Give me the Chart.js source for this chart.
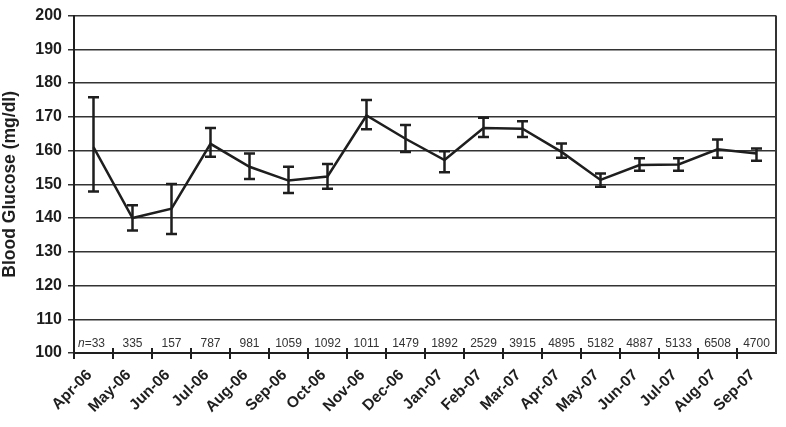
<!DOCTYPE html>
<html>
<head>
<meta charset="utf-8">
<script src="https://cdn.jsdelivr.net/npm/chart.js@4/dist/chart.umd.min.js"></script>
<style>
  html, body { margin: 0; padding: 0; background: #fff; }
  #wrap { width: 786px; height: 427px; }
</style>
</head>
<body>
<div id="wrap"><canvas id="chart" width="786" height="427"></canvas></div>
<script>
var months = ['Apr-06', 'May-06', 'Jun-06', 'Jul-06', 'Aug-06', 'Sep-06', 'Oct-06', 'Nov-06', 'Dec-06',
  'Jan-07', 'Feb-07', 'Mar-07', 'Apr-07', 'May-07', 'Jun-07', 'Jul-07', 'Aug-07', 'Sep-07'];
var meanGlucose = [161, 140, 142.8, 162, 155.2, 151.1, 152.3, 170.4, 163.5, 157.2, 166.7, 166.5, 159.6, 151.3, 155.7, 155.9, 160.4, 159.1];
var upperBar = [175.8, 143.8, 150.1, 166.7, 159.1, 155.2, 156, 175, 167.6, 159.8, 169.7, 168.7, 162.1, 153.2, 157.7, 157.7, 163.3, 160.6];
var lowerBar = [147.9, 136.3, 135.3, 158.2, 151.6, 147.4, 148.7, 166.3, 159.6, 153.6, 164, 164, 157.9, 149.3, 154, 154, 157.9, 157];
var nCounts = ['33', '335', '157', '787', '981', '1059', '1092', '1011', '1479', '1892', '2529', '3915', '4895', '5182', '4887', '5133', '6508', '4700'];

var FONT = 'Arial, "Liberation Sans", sans-serif';
var INK = '#1e1e1e';

// error bars, n labels, frame and x ticks
var extras = {
  id: 'extras',
  afterDatasetsDraw: function(chart) {
    var ctx = chart.ctx;
    var xs = chart.scales.x, ys = chart.scales.y;
    var area = chart.chartArea;
    ctx.save();
    ctx.strokeStyle = INK;
    ctx.lineWidth = 2.5;
    for (var i = 0; i < meanGlucose.length; i++) {
      var x = xs.getPixelForValue(i);
      var yt = ys.getPixelForValue(upperBar[i]);
      var yb = ys.getPixelForValue(lowerBar[i]);
      ctx.beginPath();
      ctx.moveTo(x, yt); ctx.lineTo(x, yb);
      ctx.moveTo(x - 5.5, yt); ctx.lineTo(x + 5.5, yt);
      ctx.moveTo(x - 5.5, yb); ctx.lineTo(x + 5.5, yb);
      ctx.stroke();
    }
    // frame
    ctx.lineWidth = 2;
    ctx.strokeStyle = '#333';
    ctx.beginPath();
    ctx.moveTo(area.right, area.top); ctx.lineTo(area.right, area.bottom);
    ctx.stroke();
    // x tick marks crossing the axis
    ctx.lineWidth = 2;
    ctx.strokeStyle = INK;
    var step = xs.getPixelForValue(1) - xs.getPixelForValue(0);
    for (var j = 0; j < months.length; j++) {
      var tx = xs.getPixelForValue(j) - step / 2;
      ctx.beginPath();
      ctx.moveTo(tx, area.bottom - 5); ctx.lineTo(tx, area.bottom + 6);
      ctx.stroke();
    }
    // n labels
    ctx.fillStyle = '#333';
    ctx.textAlign = 'center';
    ctx.textBaseline = 'alphabetic';
    ctx.font = '12px ' + FONT;
    for (var k = 0; k < nCounts.length; k++) {
      var lx = xs.getPixelForValue(k);
      var ly = area.bottom - 6;
      if (k === 0) {
        ctx.font = 'italic 12px ' + FONT;
        var w1 = ctx.measureText('n').width;
        ctx.font = '12px ' + FONT;
        var w2 = ctx.measureText('=' + nCounts[k]).width;
        var sx = lx - 2 - (w1 + w2) / 2;
        ctx.textAlign = 'left';
        ctx.font = 'italic 12px ' + FONT;
        ctx.fillText('n', sx, ly);
        ctx.font = '12px ' + FONT;
        ctx.fillText('=' + nCounts[k], sx + w1, ly);
        ctx.textAlign = 'center';
      } else {
        ctx.fillText(nCounts[k], lx, ly);
      }
    }
    ctx.restore();
  }
};

new Chart(document.getElementById('chart'), {
  type: 'line',
  data: {
    labels: months,
    datasets: [{
      data: meanGlucose,
      borderColor: INK,
      borderWidth: 2.5,
      pointRadius: 0,
      tension: 0,
      fill: false
    }]
  },
  options: {
    responsive: false,
    animation: false,
    layout: { padding: { top: 12, right: 10, left: 0, bottom: 0 } },
    plugins: { legend: { display: false }, tooltip: { enabled: false } },
    scales: {
      x: {
        offset: true,
        grid: { display: false, offset: true, drawOnChartArea: false },
        border: { display: true, color: INK, width: 2 },
        ticks: {
          color: INK,
          font: { family: FONT, size: 15.5, weight: 'bold' },
          maxRotation: 45,
          minRotation: 45,
          autoSkip: false,
          padding: 5,
          labelOffset: -4
        },
        afterFit: function(s) { s.height = 74; }
      },
      y: {
        min: 100,
        max: 200,
        ticks: {
          stepSize: 10,
          color: INK,
          font: { family: FONT, size: 16, weight: 'bold' },
          padding: 6
        },
        grid: { color: '#333', lineWidth: 1.5, tickLength: 6 },
        border: { display: true, color: INK, width: 2 },
        title: {
          display: true,
          text: 'Blood Glucose (mg/dl)',
          color: INK,
          font: { family: FONT, size: 17.5, weight: 'bold' },
          padding: { top: 0, bottom: 0 }
        },
        afterFit: function(s) { s.width = 74; }
      }
    }
  },
  plugins: [extras]
});
</script>
</body>
</html>
